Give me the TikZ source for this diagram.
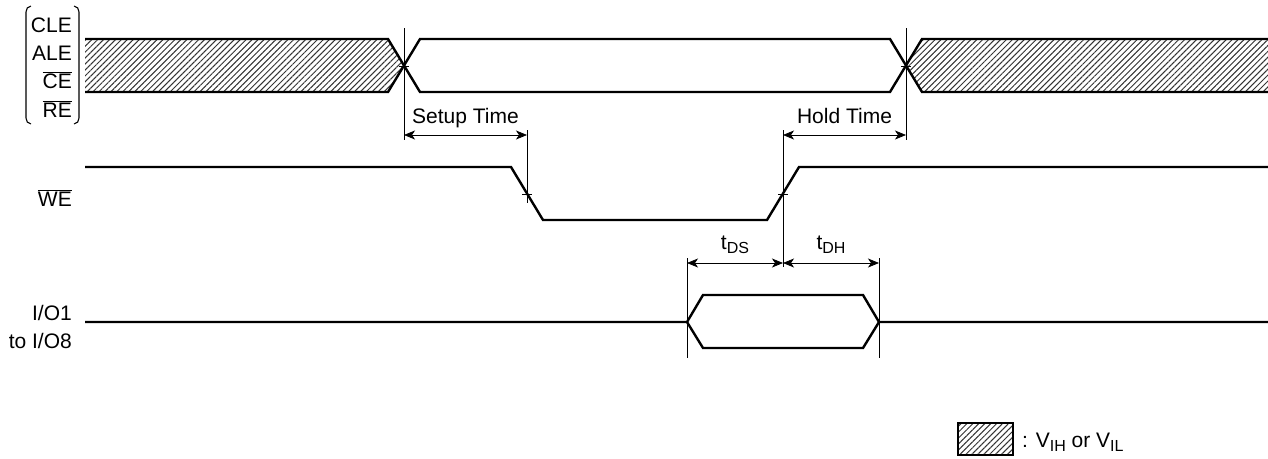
\documentclass[tikz,border=0pt]{standalone}
\usepackage{fontspec}
\setmainfont{Liberation Sans}
\usetikzlibrary{arrows.meta,patterns.meta}
\newcommand{\lowsub}[1]{\raisebox{-4pt}{\fontsize{16}{16}\selectfont #1}}

\begin{document}
\begin{tikzpicture}[x=1pt,y=-1pt,>={Stealth[length=11pt,width=9pt,inset=3pt]},
  sig/.style={line width=2.4pt,line join=miter},
  dim/.style={line width=0.8pt},
  hatch/.style={pattern={Lines[angle=45,distance=4.2pt,line width=1pt]},pattern color=black!80},
  lbl/.style={font=\fontsize{21}{23}\selectfont,inner sep=0pt}]
  \useasboundingbox (0,0) rectangle (1268,458);
  % signal names
  \node[lbl,anchor=base east] (cle) at (72,32)  {CLE};
  \node[lbl,anchor=base east] (ale) at (72,60)  {ALE};
  \node[lbl,anchor=base east] (ce)  at (72,88)  {$\overline{\mbox{CE}}$};
  \node[lbl,anchor=base east] (re)  at (72,117) {$\overline{\mbox{RE}}$};
  \node[lbl,anchor=base east] (we)  at (72,206) {$\overline{\mbox{WE}}$};
  \node[lbl,anchor=base east] (io1) at (72,320) {I/O1};
  \node[lbl,anchor=base east] (io8) at (72,348) {to I/O8};
  \draw[line width=1.1pt] (31,6) to[out=180,in=90] (26,12) -- (26,118) to[out=-90,in=180] (31,124);
  \draw[line width=1.1pt] (74,6) to[out=0,in=90] (79,12) -- (79,118) to[out=-90,in=0] (74,124);
  % CLE/ALE/CE/RE bus
  \path[hatch] (85,39) -- (388,39) -- (404,66) -- (388,92) -- (85,92) -- cycle;
  \path[hatch] (922,39) -- (1268,39) -- (1268,92) -- (922,92) -- (906,66) -- cycle;
  \draw[sig] (85,39) -- (388,39) -- (420,92) -- (890,92) -- (922,39) -- (1268,39);
  \draw[sig] (85,92) -- (388,92) -- (420,39) -- (890,39) -- (922,92) -- (1268,92);
  % WE
  \draw[sig] (85,167) -- (511,167) -- (543,220) -- (767,220) -- (799,167) -- (1268,167);
  % I/O bus
  \draw[sig] (85,322) -- (687,322) -- (703,295) -- (863,295) -- (879,322) -- (1268,322);
  \draw[sig] (687,322) -- (703,348) -- (863,348) -- (879,322);
  % timing references
  \coordinate (su) at (404,135);
  \coordinate (sw) at (527,135);
  \coordinate (hw) at (783,135);
  \coordinate (ho) at (906,135);
  \coordinate (ds) at (687,263);
  \coordinate (dw) at (783,263);
  \coordinate (dh) at (879,263);
  \draw[dim] (404,28) -- (404,140);
  \draw[dim] (906,28) -- (906,140);
  \draw[dim] (527,130) -- (527,203);
  \draw[dim] (783,130) -- (783,267);
  \draw[dim] (687,258) -- (687,358);
  \draw[dim] (879,258) -- (879,358);
  \draw[dim] (399,66) -- (409,66);
  \draw[dim] (901,66) -- (911,66);
  \draw[dim] (522,194) -- (532,194);
  \draw[dim] (778,194) -- (788,194);
  \draw[dim,<->] (su) -- (sw) node[lbl,midway,anchor=base,yshift=12pt] (setup) {Setup Time};
  \draw[dim,<->] (hw) -- (ho) node[lbl,midway,anchor=base,yshift=12pt] (hold) {Hold Time};
  \draw[dim,<->] (ds) -- (dw) node[lbl,midway,anchor=base,yshift=14pt] (tds) {t\lowsub{DS}};
  \draw[dim,<->] (dw) -- (dh) node[lbl,midway,anchor=base,yshift=14pt] (tdh) {t\lowsub{DH}};
  % legend
  \draw[hatch,line width=2pt] (958,423) rectangle (1013,455);
  \node[lbl,anchor=base west] (key) at (1022,447) {: V\lowsub{IH} or V\lowsub{IL}};
\end{tikzpicture}
\end{document}
